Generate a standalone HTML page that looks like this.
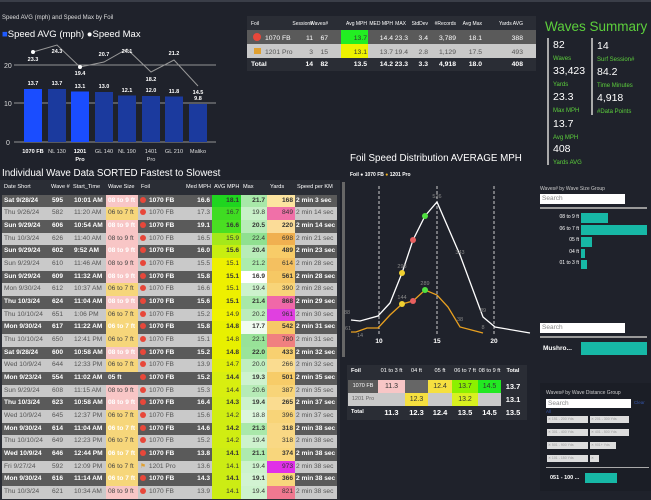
<!DOCTYPE html>
<html><head><meta charset="utf-8">
<style>
*{margin:0;padding:0;box-sizing:border-box}
body{width:651px;height:500px;background:#1f222b;font-family:"Liberation Sans",sans-serif;color:#fff;position:relative;overflow:hidden}
.a{position:absolute;white-space:nowrap}
.r{position:absolute;left:2px;width:335px;height:12.67px;display:flex}
.r>div{height:100%;line-height:12.67px;font-size:6.6px;padding:0 2px;white-space:nowrap;overflow:hidden}
.r>div:nth-child(1){width:48px}
.r>div:nth-child(2){width:22px}
.r>div:nth-child(3){width:34px}
.r>div:nth-child(4){width:32px}
.r>div:nth-child(5){width:42px}
.r>div:nth-child(6){width:32px;text-align:right}
.r>div:nth-child(7){width:29px;text-align:right;color:#333}
.r>div:nth-child(8){width:26px;text-align:right;color:#333}
.r>div:nth-child(9){width:28px;text-align:right;color:#333}
.r>div:nth-child(10){width:42px;padding:0 1px}
.d{background:#5a5a5a;color:#fff;font-weight:bold}
.l{background:#c9c9c9;color:#555}
.d>div:nth-child(4){color:#fff}
.l>div:nth-child(4){color:#444}
.p{background:#f8c6c6}.y{background:#f6d67a}
.dot{display:inline-block;width:6px;height:6px;border-radius:50%;background:#e8473a;vertical-align:-1px;margin-right:3px}
.h{position:absolute;top:184px;font-size:5.6px;color:#fff}
.mx{position:absolute;font-size:5.6px;line-height:13px;text-align:center}
.tag{position:absolute;height:7px;background:#ddd;color:#999;font-size:3.5px;line-height:7px;padding-left:1px}
</style></head><body>
<div class="a" style="left:0;top:0;width:651px;height:2px;background:#3a3e48"></div>

<div class="a" style="left:2px;top:15px;font-size:6px;color:#ddd">Speed AVG (mph) and Speed Max by Foil</div>
<div class="a" style="left:2px;top:29px;font-size:9.5px;color:#fff"><span style="color:#1f5bff">■</span>Speed AVG (mph) <span>●</span>Speed Max</div>
<svg class="a" style="left:0;top:40px" width="240" height="125">
<g font-family="Liberation Sans" font-size="7" fill="#ddd">
<text x="4" y="28">20</text><text x="4" y="66">10</text><text x="6" y="105">0</text></g>
<line x1="14" y1="25" x2="216" y2="25" stroke="#bbb" stroke-width=".8"/>
<line x1="14" y1="63" x2="216" y2="63" stroke="#bbb" stroke-width=".8"/>
<line x1="14" y1="102" x2="216" y2="102" stroke="#bbb" stroke-width=".8"/>
<rect x="24" y="49" width="18" height="53" fill="#1a4dff"/>
<rect x="48" y="49" width="18" height="53" fill="#1b3a9e"/>
<rect x="71" y="51.5" width="18" height="50.5" fill="#1a4dff"/>
<rect x="95" y="52" width="18" height="50" fill="#1b3a9e"/>
<rect x="118" y="55.5" width="18" height="46.5" fill="#1b3a9e"/>
<rect x="142" y="56" width="18" height="46" fill="#1b3a9e"/>
<rect x="165" y="56.5" width="18" height="45.5" fill="#1b3a9e"/>
<rect x="189" y="64" width="18" height="38" fill="#1b3a9e"/>
<polyline points="33,12 57,5 80,27 104,22 127,9 151,32 174,20 198,46" fill="none" stroke="#999" stroke-width="1"/>
<circle cx="33" cy="12" r="2" fill="#fff"/><circle cx="80" cy="27" r="2" fill="#fff"/>
<g font-family="Liberation Sans" font-size="5.5" fill="#fff" font-weight="bold" text-anchor="middle">
<text x="33" y="21">23.3</text><text x="57" y="13">24.3</text><text x="80" y="35">19.4</text><text x="104" y="16">20.7</text><text x="127" y="13">24.1</text><text x="151" y="41">18.2</text><text x="174" y="15">21.2</text><text x="198" y="54">14.5</text>
<text x="33" y="45">13.7</text><text x="57" y="45">13.7</text><text x="80" y="48">13.1</text><text x="104" y="48">13.0</text><text x="127" y="52">12.1</text><text x="151" y="52">12.0</text><text x="174" y="53">11.8</text><text x="198" y="60">9.8</text></g>
<g font-family="Liberation Sans" font-size="5.6" fill="#ddd" text-anchor="middle">
<text x="33" y="113" font-weight="bold" fill="#fff">1070 FB</text><text x="57" y="113">NL 130</text><text x="80" y="113" font-weight="bold" fill="#fff">1201</text><text x="80" y="121" font-weight="bold" fill="#fff">Pro</text><text x="104" y="113">GL 140</text><text x="127" y="113">NL 190</text><text x="151" y="113">1401</text><text x="151" y="121">Pro</text><text x="174" y="113">GL 210</text><text x="198" y="113">Maliko</text></g>
</svg>

<div class="a" style="left:247px;top:16px;width:289px;height:55px;background:#2a2d35"></div>
<div class="a" style="left:247px;top:30px;width:289px;height:14px;background:#5a5a5a"></div>
<div class="a" style="left:247px;top:44px;width:289px;height:14px;background:#c9c9c9"></div>
<div class="a" style="left:341px;top:30px;width:27px;height:14px;background:#22ee22"></div>
<div class="a" style="left:341px;top:44px;width:27px;height:14px;background:#eef200"></div>
<svg class="a" style="left:247px;top:16px" width="289" height="55">
<g font-family="Liberation Sans" font-size="5" fill="#fff" text-anchor="end">
<text x="4" y="9" text-anchor="start">Foil</text><text x="66" y="9">Session#</text><text x="81" y="9">Waves#</text><text x="120" y="9">Avg MPH</text><text x="146" y="9">MED MPH</text><text x="159" y="9">MAX</text><text x="181" y="9">StdDev</text><text x="209" y="9">#Records</text><text x="235" y="9">Avg Max</text><text x="276" y="9">Yards AVG</text></g>
<circle cx="10" cy="21" r="4" fill="#e8473a"/>
<rect x="7" y="32" width="7" height="6" fill="#e0a030"/>
<g font-family="Liberation Sans" font-size="6.8" text-anchor="end" fill="#fff">
<text x="18" y="24" text-anchor="start">1070 FB</text><text x="66" y="24">11</text><text x="81" y="24">67</text><text x="120" y="24" fill="#333">13.7</text><text x="146" y="24">14.4</text><text x="161" y="24">23.3</text><text x="181" y="24">3.4</text><text x="209" y="24">3,789</text><text x="235" y="24">18.1</text><text x="276" y="24">388</text></g>
<g font-family="Liberation Sans" font-size="6.8" text-anchor="end" fill="#555">
<text x="18" y="38" text-anchor="start">1201 Pro</text><text x="66" y="38">3</text><text x="81" y="38">15</text><text x="120" y="38" fill="#333">13.1</text><text x="146" y="38">13.7</text><text x="161" y="38">19.4</text><text x="181" y="38">2.8</text><text x="209" y="38">1,129</text><text x="235" y="38">17.5</text><text x="276" y="38">493</text></g>
<g font-family="Liberation Sans" font-size="6.8" text-anchor="end" fill="#fff" font-weight="bold">
<text x="4" y="50" text-anchor="start">Total</text><text x="66" y="50">14</text><text x="81" y="50">82</text><text x="120" y="50">13.5</text><text x="146" y="50">14.2</text><text x="161" y="50">23.3</text><text x="181" y="50">3.3</text><text x="209" y="50">4,918</text><text x="235" y="50">18.0</text><text x="276" y="50">408</text></g>
</svg>

<div class="a" style="left:545px;top:19px;font-size:13.5px;color:#5ccf3c">Waves Summary</div>
<div class="a" style="left:547px;top:38px;width:2px;height:127px;background:#aaa"></div>
<div class="a" style="left:591px;top:38px;width:2px;height:77px;background:#aaa"></div>
<div class="a" style="left:553px;top:39px;font-size:10.5px;line-height:12px">82<br><span style="font-size:6px;color:#5ccf3c">Waves</span></div>
<div class="a" style="left:553px;top:65px;font-size:10.5px;line-height:12px">33,423<br><span style="font-size:6px;color:#5ccf3c">Yards</span></div>
<div class="a" style="left:553px;top:91px;font-size:10.5px;line-height:12px">23.3<br><span style="font-size:6px;color:#5ccf3c">Max MPH</span></div>
<div class="a" style="left:553px;top:118px;font-size:10.5px;line-height:12px">13.7<br><span style="font-size:6px;color:#5ccf3c">Avg MPH</span></div>
<div class="a" style="left:553px;top:143px;font-size:10.5px;line-height:12px">408<br><span style="font-size:6px;color:#5ccf3c">Yards AVG</span></div>
<div class="a" style="left:597px;top:40px;font-size:10.5px;line-height:12px">14<br><span style="font-size:6px;color:#5ccf3c">Surf Session#</span></div>
<div class="a" style="left:597px;top:66px;font-size:10.5px;line-height:12px">84.2<br><span style="font-size:6px;color:#5ccf3c">Time Minutes</span></div>
<div class="a" style="left:597px;top:92px;font-size:10.5px;line-height:12px">4,918<br><span style="font-size:6px;color:#5ccf3c">#Data Points</span></div>

<div class="a" style="left:2px;top:168px;font-size:9.8px">Individual Wave Data SORTED Fastest to Slowest</div>
<div class="a" style="left:0;top:180px;width:340px;height:320px;background:#2a2d35"></div>
<div class="h" style="left:4px">Date Short</div><div class="h" style="left:51px">Wave #</div><div class="h" style="left:73px">Start_Time</div><div class="h" style="left:108px">Wave Size</div><div class="h" style="left:141px">Foil</div><div class="h" style="left:186px">Med MPH</div><div class="h" style="left:214px">AVG MPH</div><div class="h" style="left:243px">Max</div><div class="h" style="left:270px">Yards</div><div class="h" style="left:297px">Speed per KM</div>

<div class="r d" style="top:194.7px"><div>Sat 9/28/24</div><div>595</div><div>10:01 AM</div><div class="p">08 to 9 ft</div><div><span class="dot"></span>1070 FB</div><div>16.6</div><div style="background:#1fd51f">18.1</div><div style="background:#a8e8a8">21.7</div><div style="background:#fce4a0">168</div><div>2 min 3 sec</div></div>
<div class="r l" style="top:207.4px"><div>Thu 9/26/24</div><div>582</div><div>11:20 AM</div><div class="y">06 to 7 ft</div><div><span class="dot"></span>1070 FB</div><div>17.3</div><div style="background:#3fdc22">16.7</div><div style="background:#c8f0c8">19.8</div><div style="background:#f070a8">849</div><div>2 min 14 sec</div></div>
<div class="r d" style="top:220.0px"><div>Sun 9/29/24</div><div>606</div><div>10:54 AM</div><div class="p">08 to 9 ft</div><div><span class="dot"></span>1070 FB</div><div>19.1</div><div style="background:#4adf22">16.6</div><div style="background:#b8ecb8">20.5</div><div style="background:#fbdc98">220</div><div>2 min 14 sec</div></div>
<div class="r l" style="top:232.7px"><div>Thu 10/3/24</div><div>626</div><div>11:40 AM</div><div class="p">08 to 9 ft</div><div><span class="dot"></span>1070 FB</div><div>16.5</div><div style="background:#a5e81a">15.9</div><div style="background:#90e090">22.4</div><div style="background:#f0b050">698</div><div>2 min 21 sec</div></div>
<div class="r d" style="top:245.4px"><div>Sun 9/29/24</div><div>602</div><div>9:52 AM</div><div class="p">08 to 9 ft</div><div><span class="dot"></span>1070 FB</div><div>16.0</div><div style="background:#c8ee10">15.6</div><div style="background:#b8ecb8">20.4</div><div style="background:#f8cc68">489</div><div>2 min 23 sec</div></div>
<div class="r l" style="top:258.0px"><div>Sun 9/29/24</div><div>610</div><div>11:46 AM</div><div class="p">08 to 9 ft</div><div><span class="dot"></span>1070 FB</div><div>15.5</div><div style="background:#eef000">15.1</div><div style="background:#acecac">21.2</div><div style="background:#f4c060">614</div><div>2 min 28 sec</div></div>
<div class="r d" style="top:270.7px"><div>Sun 9/29/24</div><div>609</div><div>11:32 AM</div><div class="p">08 to 9 ft</div><div><span class="dot"></span>1070 FB</div><div>15.8</div><div style="background:#eef000">15.1</div><div style="background:#fff">16.9</div><div style="background:#f6c864">561</div><div>2 min 28 sec</div></div>
<div class="r l" style="top:283.4px"><div>Mon 9/30/24</div><div>612</div><div>10:37 AM</div><div class="y">06 to 7 ft</div><div><span class="dot"></span>1070 FB</div><div>16.6</div><div style="background:#eef000">15.1</div><div style="background:#cdf2cd">19.4</div><div style="background:#f8d478">390</div><div>2 min 28 sec</div></div>
<div class="r d" style="top:296.0px"><div>Thu 10/3/24</div><div>624</div><div>11:04 AM</div><div class="p">08 to 9 ft</div><div><span class="dot"></span>1070 FB</div><div>15.6</div><div style="background:#eef000">15.1</div><div style="background:#a8e8a8">21.4</div><div style="background:#f068a8">868</div><div>2 min 29 sec</div></div>
<div class="r l" style="top:308.7px"><div>Thu 10/10/24</div><div>651</div><div>1:06 PM</div><div class="y">06 to 7 ft</div><div><span class="dot"></span>1070 FB</div><div>15.2</div><div style="background:#f0f200">14.9</div><div style="background:#bcecbc">20.2</div><div style="background:#e040e0">961</div><div>2 min 30 sec</div></div>
<div class="r d" style="top:321.4px"><div>Mon 9/30/24</div><div>617</div><div>11:22 AM</div><div class="y">06 to 7 ft</div><div><span class="dot"></span>1070 FB</div><div>15.8</div><div style="background:#e8f000">14.8</div><div style="background:#f0fbf0">17.7</div><div style="background:#f6c866">542</div><div>2 min 31 sec</div></div>
<div class="r l" style="top:334.0px"><div>Thu 10/10/24</div><div>650</div><div>12:41 PM</div><div class="y">06 to 7 ft</div><div><span class="dot"></span>1070 FB</div><div>15.1</div><div style="background:#e8f000">14.8</div><div style="background:#98e298">22.1</div><div style="background:#f08080">780</div><div>2 min 31 sec</div></div>
<div class="r d" style="top:346.7px"><div>Sat 9/28/24</div><div>600</div><div>10:58 AM</div><div class="p">08 to 9 ft</div><div><span class="dot"></span>1070 FB</div><div>15.2</div><div style="background:#e8f000">14.8</div><div style="background:#9ae49a">22.0</div><div style="background:#f8d070">433</div><div>2 min 32 sec</div></div>
<div class="r l" style="top:359.4px"><div>Wed 10/9/24</div><div>644</div><div>12:33 PM</div><div class="y">06 to 7 ft</div><div><span class="dot"></span>1070 FB</div><div>13.9</div><div style="background:#e0ef08">14.7</div><div style="background:#c0eec0">20.0</div><div style="background:#fadc90">266</div><div>2 min 32 sec</div></div>
<div class="r d" style="top:372.0px"><div>Mon 9/23/24</div><div>554</div><div>11:02 AM</div><div>05 ft</div><div><span class="dot"></span>1070 FB</div><div>15.2</div><div style="background:#d8ee10">14.4</div><div style="background:#cef2ce">19.3</div><div style="background:#f7cc68">501</div><div>2 min 35 sec</div></div>
<div class="r l" style="top:384.7px"><div>Sun 9/29/24</div><div>608</div><div>11:15 AM</div><div class="p">08 to 9 ft</div><div><span class="dot"></span>1070 FB</div><div>15.3</div><div style="background:#d8ee10">14.4</div><div style="background:#b6ebb6">20.6</div><div style="background:#f8d478">387</div><div>2 min 35 sec</div></div>
<div class="r d" style="top:397.4px"><div>Thu 10/3/24</div><div>623</div><div>10:58 AM</div><div class="p">08 to 9 ft</div><div><span class="dot"></span>1070 FB</div><div>16.4</div><div style="background:#d4ee10">14.3</div><div style="background:#cdf2cd">19.4</div><div style="background:#fadc90">265</div><div>2 min 37 sec</div></div>
<div class="r l" style="top:410.0px"><div>Wed 10/9/24</div><div>645</div><div>12:37 PM</div><div class="y">06 to 7 ft</div><div><span class="dot"></span>1070 FB</div><div>15.6</div><div style="background:#d0ed12">14.2</div><div style="background:#dcf5dc">18.8</div><div style="background:#f8d478">396</div><div>2 min 37 sec</div></div>
<div class="r d" style="top:422.7px"><div>Mon 9/30/24</div><div>614</div><div>11:04 AM</div><div class="y">06 to 7 ft</div><div><span class="dot"></span>1070 FB</div><div>14.6</div><div style="background:#d0ed12">14.2</div><div style="background:#aae8aa">21.3</div><div style="background:#f9d884">318</div><div>2 min 38 sec</div></div>
<div class="r l" style="top:435.4px"><div>Thu 10/10/24</div><div>649</div><div>12:23 PM</div><div class="y">06 to 7 ft</div><div><span class="dot"></span>1070 FB</div><div>15.2</div><div style="background:#d0ed12">14.2</div><div style="background:#cdf2cd">19.4</div><div style="background:#f9d884">318</div><div>2 min 38 sec</div></div>
<div class="r d" style="top:448.0px"><div>Wed 10/9/24</div><div>646</div><div>12:44 PM</div><div class="y">06 to 7 ft</div><div><span class="dot"></span>1070 FB</div><div>13.8</div><div style="background:#ccec14">14.1</div><div style="background:#aeeaae">21.1</div><div style="background:#f8d67c">374</div><div>2 min 38 sec</div></div>
<div class="r l" style="top:460.7px"><div>Fri 9/27/24</div><div>592</div><div>12:09 PM</div><div class="y">06 to 7 ft</div><div><span style="color:#e0a030;margin-right:3px">⚑</span>1201 Pro</div><div>13.6</div><div style="background:#ccec14">14.1</div><div style="background:#cdf2cd">19.4</div><div style="background:#e030e8">973</div><div>2 min 38 sec</div></div>
<div class="r d" style="top:473.4px"><div>Mon 9/30/24</div><div>616</div><div>11:14 AM</div><div class="y">06 to 7 ft</div><div><span class="dot"></span>1070 FB</div><div>14.3</div><div style="background:#ccec14">14.1</div><div style="background:#d2f3d2">19.1</div><div style="background:#f8d67c">366</div><div>2 min 38 sec</div></div>
<div class="r l" style="top:486.0px"><div>Thu 10/3/24</div><div>621</div><div>10:34 AM</div><div class="p">08 to 9 ft</div><div><span class="dot"></span>1070 FB</div><div>13.9</div><div style="background:#ccec14">14.1</div><div style="background:#cdf2cd">19.4</div><div style="background:#f07890">821</div><div>2 min 38 sec</div></div>

<div class="a" style="left:350px;top:153px;font-size:9.8px">Foil Speed Distribution AVERAGE MPH</div>
<div class="a" style="left:350px;top:172px;font-size:5px;font-weight:bold">Foil <span style="color:#fff">●</span> 1070 FB <span style="color:#f0b020">●</span> 1201 Pro</div>
<div class="a" style="left:342px;top:182px;width:3px;height:175px;background:#666"></div>
<svg class="a" style="left:340px;top:180px" width="195" height="170">
<g stroke="#ccc" stroke-dasharray="3,2" stroke-width="1"><line x1="39" y1="6" x2="39" y2="156"/><line x1="97" y1="6" x2="97" y2="156"/><line x1="154" y1="6" x2="154" y2="156"/></g>
<polyline fill="none" stroke="#fff" stroke-width="1.3" points="11,140 20,141 38,136 50,123 62,93 73,60 85,36 97,22 120,75 143,137 155,147 190,153"/>
<polyline fill="none" stroke="#e8a020" stroke-width="1.3" points="11,152 16,152 27,148 38,148 50,135 62,124 73,121 85,110 97,115 108,127 120,147 143,153"/>
<circle cx="62" cy="93" r="3" fill="#f0d030"/><circle cx="73" cy="60" r="3" fill="#e86060"/><circle cx="85" cy="36" r="3" fill="#50e040"/>
<circle cx="62" cy="124" r="3" fill="#f0d030"/><circle cx="73" cy="121" r="3" fill="#e86060"/><circle cx="85" cy="110" r="3" fill="#50e040"/>
<g font-family="Liberation Sans" font-size="5.5" fill="#888" text-anchor="middle"><text x="97" y="18">526</text><text x="62" y="88">298</text><text x="120" y="74">343</text><text x="85" y="105">289</text><text x="62" y="119">144</text><text x="7" y="134">88</text><text x="8" y="150">61</text><text x="20" y="157">14</text><text x="143" y="132">89</text><text x="120" y="141">38</text><text x="143" y="149">8</text></g>
<g font-family="Liberation Sans" font-size="6.5" fill="#fff" font-weight="bold" text-anchor="middle"><text x="39" y="163">10</text><text x="97" y="163">15</text><text x="154" y="163">20</text></g>
</svg>

<div class="a" style="left:347px;top:365px;width:180px;height:55px;background:#2a2d35"></div>
<div class="mx" style="left:348px;top:365px;width:30px;text-align:left;padding-left:3px;font-weight:bold">Foil</div>
<div class="mx" style="left:378px;top:365px;width:27px">01 to 3 ft</div>
<div class="mx" style="left:405px;top:365px;width:23px">04 ft</div>
<div class="mx" style="left:428px;top:365px;width:24px">05 ft</div>
<div class="mx" style="left:452px;top:365px;width:26px">06 to 7 ft</div>
<div class="mx" style="left:478px;top:365px;width:23px">08 to 9 ft</div>
<div class="mx" style="left:501px;top:365px;width:24px;font-weight:bold">Total</div>
<div class="mx" style="left:348px;top:380px;width:30px;height:13px;background:#5a5a5a;font-size:5.5px">1070 FB</div>
<div class="mx" style="left:378px;top:380px;width:27px;height:13px;background:#f8c6c6;color:#333;font-size:7px">11.3</div>
<div class="mx" style="left:405px;top:380px;width:23px;height:13px;background:#666"></div>
<div class="mx" style="left:428px;top:380px;width:24px;height:13px;background:#f6e040;color:#333;font-size:7px">12.4</div>
<div class="mx" style="left:452px;top:380px;width:26px;height:13px;background:#8cf000;color:#333;font-size:7px">13.7</div>
<div class="mx" style="left:478px;top:380px;width:23px;height:13px;background:#22e822;color:#333;font-size:7px">14.5</div>
<div class="mx" style="left:501px;top:380px;width:24px;height:13px;background:#2a2d35;font-size:7.5px;font-weight:bold">13.7</div>
<div class="mx" style="left:348px;top:393px;width:30px;height:13px;background:#c9c9c9;color:#666;font-size:5.5px">1201 Pro</div>
<div class="mx" style="left:378px;top:393px;width:27px;height:13px;background:#c9c9c9"></div>
<div class="mx" style="left:405px;top:393px;width:23px;height:13px;background:#f6e040;color:#333;font-size:7px">12.3</div>
<div class="mx" style="left:428px;top:393px;width:24px;height:13px;background:#c9c9c9"></div>
<div class="mx" style="left:452px;top:393px;width:26px;height:13px;background:#d8f020;color:#333;font-size:7px">13.2</div>
<div class="mx" style="left:478px;top:393px;width:23px;height:13px;background:#c9c9c9"></div>
<div class="mx" style="left:501px;top:393px;width:24px;height:13px;background:#2a2d35;font-size:7.5px;font-weight:bold">13.1</div>
<div class="mx" style="left:348px;top:406px;width:30px;text-align:left;padding-left:3px;font-weight:bold;font-size:5.5px">Total</div>
<div class="mx" style="left:378px;top:406px;width:27px;font-size:7.5px;font-weight:bold">11.3</div>
<div class="mx" style="left:405px;top:406px;width:23px;font-size:7.5px;font-weight:bold">12.3</div>
<div class="mx" style="left:428px;top:406px;width:24px;font-size:7.5px;font-weight:bold">12.4</div>
<div class="mx" style="left:452px;top:406px;width:26px;font-size:7.5px;font-weight:bold">13.5</div>
<div class="mx" style="left:478px;top:406px;width:23px;font-size:7.5px;font-weight:bold">14.5</div>
<div class="mx" style="left:501px;top:406px;width:24px;font-size:7.5px;font-weight:bold">13.5</div>

<div class="a" style="left:540px;top:186px;font-size:5px;color:#ccc">Waves# by Wave Size Group</div>
<div class="a" style="left:540px;top:194px;width:85px;height:10px;background:#fff;color:#888;font-size:6.5px;line-height:10px;padding-left:2px">Search</div>
<div class="a" style="left:540px;top:207px;width:107px;height:1.5px;background:#999"></div>
<div class="a" style="left:530px;top:215px;width:49px;text-align:right;font-size:5px;line-height:5.8px">08 to 9 ft<br><br>06 to 7 ft<br><br>05 ft<br><br>04 ft<br><br>01 to 3 ft</div>
<div class="a" style="left:581px;top:213px;width:27px;height:10px;background:#17b8a6"></div>
<div class="a" style="left:581px;top:225px;width:66px;height:10px;background:#17b8a6"></div>
<div class="a" style="left:581px;top:237px;width:11px;height:10px;background:#17b8a6"></div>
<div class="a" style="left:581px;top:249px;width:4px;height:9px;background:#17b8a6"></div>
<div class="a" style="left:581px;top:260px;width:6px;height:9px;background:#17b8a6"></div>
<div class="a" style="left:540px;top:323px;width:85px;height:10px;background:#fff;color:#888;font-size:6.5px;line-height:10px;padding-left:2px">Search</div>
<div class="a" style="left:540px;top:336px;width:107px;height:1.5px;background:#999"></div>
<div class="a" style="left:543px;top:345px;font-size:6.5px;font-weight:bold">Mushro...</div>
<div class="a" style="left:581px;top:342px;width:66px;height:13px;background:#17b8a6"></div>

<div class="a" style="left:540px;top:383px;width:111px;height:108px;background:#1b1e26"></div>
<div class="a" style="left:546px;top:390px;font-size:5px;color:#ccc">Waves# by Wave Distance Group</div>
<div class="a" style="left:546px;top:399px;width:85px;height:9px;background:#fff;color:#888;font-size:6.5px;line-height:9px;padding-left:2px">Search</div>
<div class="a" style="left:634px;top:400px;font-size:4.5px;color:#3355aa">Clear</div>
<div class="a" style="left:546px;top:409px;font-size:4.5px;color:#3355aa">All</div>
<div class="tag" style="left:547px;top:416px;width:41px">✕ 151 - 200 Yds</div>
<div class="tag" style="left:590px;top:416px;width:39px">✕ 201 - 300 Yds</div>
<div class="tag" style="left:547px;top:429px;width:41px">✕ 301 - 400 Yds</div>
<div class="tag" style="left:590px;top:429px;width:39px">✕ 401 - 500 Yds</div>
<div class="tag" style="left:547px;top:442px;width:41px">✕ 501 - 900 Yds</div>
<div class="tag" style="left:590px;top:442px;width:26px">✕ 901+ Yds</div>
<div class="tag" style="left:547px;top:455px;width:41px">✕ 101 - 150 Yds</div>
<div class="tag" style="left:590px;top:455px;width:9px">✕</div>
<div class="a" style="left:546px;top:467px;width:103px;height:1px;background:#aaa"></div>
<div class="a" style="left:550px;top:475px;font-size:5.5px;font-weight:bold">051 - 100 ...</div>
<div class="a" style="left:585px;top:473px;width:32px;height:10px;background:#17b8a6"></div>
</body></html>
